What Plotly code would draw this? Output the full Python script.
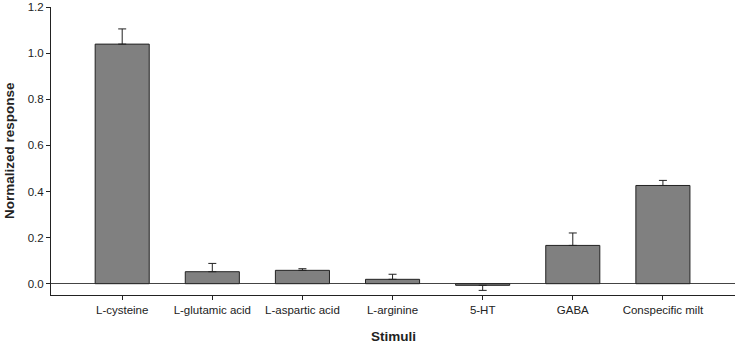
import plotly.graph_objects as go

categories = ["L-cysteine", "L-glutamic acid", "L-aspartic acid", "L-arginine",
              "5-HT", "GABA", "Conspecific milt"]
means = [1.039, 0.052, 0.058, 0.019, -0.007, 0.166, 0.426]
sem = [0.066, 0.036, 0.007, 0.022, 0.022, 0.054, 0.022]
y_ticks = [0.0, 0.2, 0.4, 0.6, 0.8, 1.0, 1.2]
y_ticklabels = ["0.0", "0.2", "0.4", "0.6", "0.8", "1.0", "1.2"]

err_plus = [e if m >= 0 else 0 for m, e in zip(means, sem)]
err_minus = [0 if m >= 0 else e for m, e in zip(means, sem)]

FONT = "Arial, 'Liberation Sans', sans-serif"
DARK = "#222222"

fig = go.Figure()
fig.add_trace(go.Bar(
    x=list(range(len(categories))),
    y=means,
    width=0.6,
    marker=dict(color="#808080", line=dict(color=DARK, width=1)),
    error_y=dict(type="data", symmetric=False, array=err_plus, arrayminus=err_minus,
                 color=DARK, thickness=1, width=4),
))

fig.update_layout(
    width=737, height=344,
    margin=dict(l=51, r=2, t=7, b=49, autoexpand=False),
    paper_bgcolor="white", plot_bgcolor="white",
    showlegend=False,
    font=dict(family=FONT, size=11.5, color=DARK),
    xaxis=dict(
        automargin=False,
        range=[-0.79, 6.8],
        tickmode="array",
        tickvals=list(range(len(categories))),
        ticktext=categories,
        ticks="outside", ticklen=4, tickcolor=DARK, tickwidth=1,
        showline=True, linecolor=DARK, linewidth=1,
        showgrid=False, zeroline=False,
        tickfont=dict(size=11.5, color=DARK),
    ),
    yaxis=dict(
        automargin=False,
        range=[-0.049, 1.2],
        tickmode="array",
        tickvals=y_ticks,
        ticktext=y_ticklabels,
        ticks="outside", ticklen=4, tickcolor=DARK, tickwidth=1,
        showline=True, linecolor=DARK, linewidth=1,
        showgrid=False,
        zeroline=True, zerolinecolor="#444444", zerolinewidth=1,
        tickfont=dict(size=11.5, color=DARK),
    ),
    annotations=[
        dict(text="<b>Stimuli</b>", xref="paper", yref="paper", x=0.5, y=0,
             yshift=-41, xanchor="center", yanchor="middle", showarrow=False,
             font=dict(size=13.5, color=DARK)),
        dict(text="<b>Normalized response</b>", xref="paper", yref="paper", x=0, y=0.5,
             xshift=-42, xanchor="center", yanchor="middle", showarrow=False, textangle=-90,
             font=dict(size=13.5, color=DARK)),
    ],
)

fig.write_html("out.html",
               config={"displayModeBar": False},
               post_script="document.body.style.margin='0';document.body.style.overflow='hidden';")
